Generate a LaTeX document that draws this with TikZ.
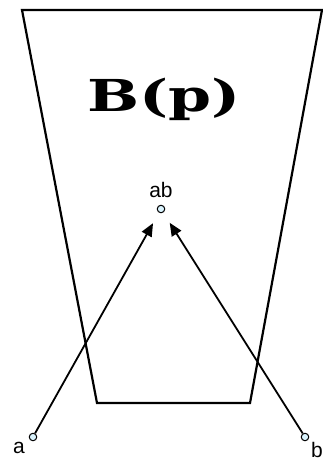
\documentclass[tikz,border=0pt]{standalone}
\usepackage{fontspec}
\newfontfamily\labelfont{Liberation Sans}
\newfontfamily\titlefont{DejaVu Serif}
\usepackage{tikz}
\usetikzlibrary{positioning,arrows.meta}

\begin{document}
\begin{tikzpicture}[
        x=1pt, y=-1pt,
        node distance=2pt,
        pt/.style={draw, circle, fill=cyan!15!white, line width=1pt,
                   inner sep=0pt, minimum size=7.5pt},
        lbl/.style={font=\labelfont\fontsize{21}{21}\selectfont, inner sep=0pt},
        edge/.style={line width=2.2pt},
        arrow/.style={-{Triangle[length=13pt,width=11pt]}, line width=1.8pt, shorten >=12pt},
    ]
        \useasboundingbox (0,0) rectangle (323,461);

        % trapezoid B(p)
        \coordinate (tl) at (22,10);
        \coordinate (tr) at (322,10);
        \coordinate (br) at (250,403);
        \coordinate (bl) at (97,403);
        \draw[edge, line join=miter] (tl) -- (tr) -- (br) -- (bl) -- cycle;
        \node[font=\titlefont\bfseries\fontsize{44}{44}\selectfont, xscale=1.4, anchor=base] (name) at (164,111) {B(p)};

        % points
        \node[pt] (ab) at (161,209) {};
        \node[pt] (a)  at (33,437)  {};
        \node[pt] (b)  at (305,437) {};
        \node[lbl, above=7pt of ab]                      (abl) {ab};
        \node[lbl, below left=5pt and 8pt of a.center]   (al)  {a};
        \node[lbl, below right=5pt and 6pt of b.center]  (bl2) {b};

        \draw[arrow] (a) -- (ab);
        \draw[arrow] (b) -- (ab);
\end{tikzpicture}
\end{document}
